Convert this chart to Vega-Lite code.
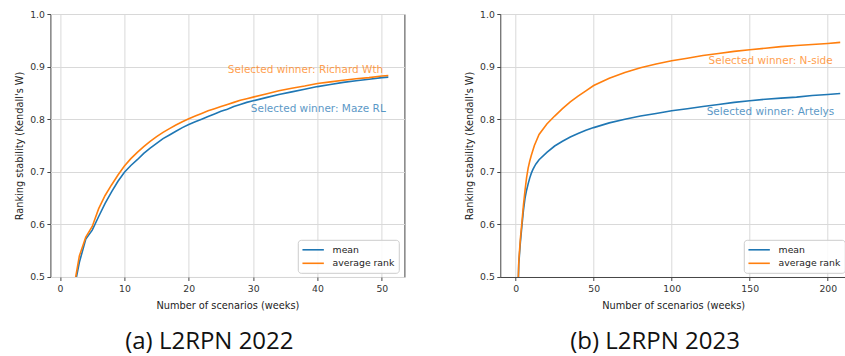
{
  "$schema": "https://vega.github.io/schema/vega-lite/v6.json",
  "padding": {"left": 13.4, "top": 9, "right": 0, "bottom": 2},
  "spacing": 57.9,
  "config": {
    "font": "DejaVu Sans",
    "axis": {
      "grid": true, "gridColor": "#d9d9d9", "gridWidth": 1,
      "domain": false, "domainColor": "#444", "domainWidth": 1,
      "tickSize": 3.5, "tickColor": "#444", "tickWidth": 1,
      "labelFontSize": 9.3, "labelColor": "#333", "labelFont": "DejaVu Sans",
      "titleFontSize": 9.8, "titleFontWeight": "normal", "titleColor": "#222", "titleFont": "DejaVu Sans",
      "labelFlush": false
    },
    "axisY": {"labelPadding": 2.5, "titlePadding": 5.3},
    "axisX": {"labelPadding": 4, "titlePadding": 6.5},
    "legend": {
      "labelFontSize": 9.3, "labelFont": "DejaVu Sans", "labelColor": "#222",
      "symbolType": "M-1,0H3", "symbolStrokeWidth": 1.6, "symbolSize": 114.5,
      "strokeColor": "#cccccc", "fillColor": "rgba(255,255,255,0.85)",
      "padding": 3.5, "cornerRadius": 3, "rowPadding": 1.5, "labelOffset": 18.3
    },
    "title": {"font": "Open Sans", "fontSize": 24, "fontWeight": "normal", "color": "#111"}
  },
  "datasets": {
    "l22": [
      {"x": 2, "y": 0.466, "series": "mean"}, {"x": 3, "y": 0.528, "series": "mean"}, {"x": 4, "y": 0.572, "series": "mean"},
      {"x": 5, "y": 0.589, "series": "mean"}, {"x": 6, "y": 0.615, "series": "mean"}, {"x": 7, "y": 0.640, "series": "mean"},
      {"x": 8, "y": 0.662, "series": "mean"}, {"x": 9, "y": 0.682, "series": "mean"}, {"x": 10, "y": 0.699, "series": "mean"},
      {"x": 11, "y": 0.712, "series": "mean"}, {"x": 12, "y": 0.723, "series": "mean"}, {"x": 13, "y": 0.735, "series": "mean"},
      {"x": 14, "y": 0.745, "series": "mean"}, {"x": 15, "y": 0.754, "series": "mean"}, {"x": 16, "y": 0.763, "series": "mean"},
      {"x": 17, "y": 0.770, "series": "mean"}, {"x": 18, "y": 0.777, "series": "mean"}, {"x": 19, "y": 0.784, "series": "mean"},
      {"x": 20, "y": 0.790, "series": "mean"}, {"x": 21, "y": 0.795, "series": "mean"}, {"x": 22, "y": 0.800, "series": "mean"},
      {"x": 23, "y": 0.805, "series": "mean"}, {"x": 24, "y": 0.810, "series": "mean"}, {"x": 25, "y": 0.815, "series": "mean"},
      {"x": 26, "y": 0.819, "series": "mean"}, {"x": 27, "y": 0.824, "series": "mean"}, {"x": 28, "y": 0.828, "series": "mean"},
      {"x": 29, "y": 0.832, "series": "mean"}, {"x": 30, "y": 0.835, "series": "mean"}, {"x": 32, "y": 0.841, "series": "mean"},
      {"x": 34, "y": 0.847, "series": "mean"}, {"x": 36, "y": 0.852, "series": "mean"}, {"x": 38, "y": 0.857, "series": "mean"},
      {"x": 40, "y": 0.862, "series": "mean"}, {"x": 42, "y": 0.866, "series": "mean"}, {"x": 44, "y": 0.870, "series": "mean"},
      {"x": 46, "y": 0.873, "series": "mean"}, {"x": 48, "y": 0.876, "series": "mean"}, {"x": 50, "y": 0.879, "series": "mean"},
      {"x": 51, "y": 0.880, "series": "mean"},
      {"x": 2, "y": 0.470, "series": "average rank"}, {"x": 3, "y": 0.540, "series": "average rank"}, {"x": 4, "y": 0.576, "series": "average rank"},
      {"x": 5, "y": 0.596, "series": "average rank"}, {"x": 6, "y": 0.630, "series": "average rank"}, {"x": 7, "y": 0.655, "series": "average rank"},
      {"x": 8, "y": 0.675, "series": "average rank"}, {"x": 9, "y": 0.694, "series": "average rank"}, {"x": 10, "y": 0.711, "series": "average rank"},
      {"x": 11, "y": 0.725, "series": "average rank"}, {"x": 12, "y": 0.737, "series": "average rank"}, {"x": 13, "y": 0.748, "series": "average rank"},
      {"x": 14, "y": 0.758, "series": "average rank"}, {"x": 15, "y": 0.767, "series": "average rank"}, {"x": 16, "y": 0.775, "series": "average rank"},
      {"x": 17, "y": 0.782, "series": "average rank"}, {"x": 18, "y": 0.789, "series": "average rank"}, {"x": 19, "y": 0.795, "series": "average rank"},
      {"x": 20, "y": 0.801, "series": "average rank"}, {"x": 21, "y": 0.806, "series": "average rank"}, {"x": 22, "y": 0.811, "series": "average rank"},
      {"x": 23, "y": 0.816, "series": "average rank"}, {"x": 24, "y": 0.820, "series": "average rank"}, {"x": 25, "y": 0.824, "series": "average rank"},
      {"x": 26, "y": 0.828, "series": "average rank"}, {"x": 27, "y": 0.832, "series": "average rank"}, {"x": 28, "y": 0.836, "series": "average rank"},
      {"x": 29, "y": 0.839, "series": "average rank"}, {"x": 30, "y": 0.842, "series": "average rank"}, {"x": 32, "y": 0.848, "series": "average rank"},
      {"x": 34, "y": 0.854, "series": "average rank"}, {"x": 36, "y": 0.859, "series": "average rank"}, {"x": 38, "y": 0.863, "series": "average rank"},
      {"x": 40, "y": 0.868, "series": "average rank"}, {"x": 42, "y": 0.871, "series": "average rank"}, {"x": 44, "y": 0.874, "series": "average rank"},
      {"x": 46, "y": 0.877, "series": "average rank"}, {"x": 48, "y": 0.879, "series": "average rank"}, {"x": 50, "y": 0.882, "series": "average rank"},
      {"x": 51, "y": 0.883, "series": "average rank"}
    ],
    "l23": [
      {"x": 1, "y": 0.42, "series": "mean"}, {"x": 2, "y": 0.525, "series": "mean"}, {"x": 3, "y": 0.565, "series": "mean"},
      {"x": 4, "y": 0.597, "series": "mean"}, {"x": 5, "y": 0.627, "series": "mean"}, {"x": 6, "y": 0.650, "series": "mean"},
      {"x": 7, "y": 0.665, "series": "mean"}, {"x": 8, "y": 0.677, "series": "mean"}, {"x": 9, "y": 0.688, "series": "mean"},
      {"x": 10, "y": 0.697, "series": "mean"}, {"x": 11, "y": 0.704, "series": "mean"}, {"x": 12, "y": 0.710, "series": "mean"},
      {"x": 13, "y": 0.715, "series": "mean"}, {"x": 15, "y": 0.723, "series": "mean"}, {"x": 20, "y": 0.737, "series": "mean"},
      {"x": 25, "y": 0.749, "series": "mean"}, {"x": 30, "y": 0.758, "series": "mean"}, {"x": 35, "y": 0.766, "series": "mean"},
      {"x": 40, "y": 0.773, "series": "mean"}, {"x": 45, "y": 0.779, "series": "mean"}, {"x": 50, "y": 0.784, "series": "mean"},
      {"x": 60, "y": 0.793, "series": "mean"}, {"x": 70, "y": 0.800, "series": "mean"}, {"x": 80, "y": 0.806, "series": "mean"},
      {"x": 90, "y": 0.811, "series": "mean"}, {"x": 100, "y": 0.816, "series": "mean"}, {"x": 110, "y": 0.820, "series": "mean"},
      {"x": 120, "y": 0.824, "series": "mean"}, {"x": 130, "y": 0.828, "series": "mean"}, {"x": 140, "y": 0.832, "series": "mean"},
      {"x": 150, "y": 0.835, "series": "mean"}, {"x": 160, "y": 0.838, "series": "mean"}, {"x": 170, "y": 0.840, "series": "mean"},
      {"x": 180, "y": 0.842, "series": "mean"}, {"x": 190, "y": 0.845, "series": "mean"}, {"x": 200, "y": 0.847, "series": "mean"},
      {"x": 208, "y": 0.849, "series": "mean"},
      {"x": 1, "y": 0.42, "series": "average rank"}, {"x": 2, "y": 0.530, "series": "average rank"}, {"x": 3, "y": 0.572, "series": "average rank"},
      {"x": 4, "y": 0.604, "series": "average rank"}, {"x": 5, "y": 0.637, "series": "average rank"}, {"x": 6, "y": 0.665, "series": "average rank"},
      {"x": 7, "y": 0.689, "series": "average rank"}, {"x": 8, "y": 0.707, "series": "average rank"}, {"x": 9, "y": 0.720, "series": "average rank"},
      {"x": 10, "y": 0.731, "series": "average rank"}, {"x": 12, "y": 0.750, "series": "average rank"}, {"x": 15, "y": 0.771, "series": "average rank"},
      {"x": 20, "y": 0.791, "series": "average rank"}, {"x": 25, "y": 0.806, "series": "average rank"}, {"x": 30, "y": 0.820, "series": "average rank"},
      {"x": 35, "y": 0.833, "series": "average rank"}, {"x": 40, "y": 0.844, "series": "average rank"}, {"x": 45, "y": 0.854, "series": "average rank"},
      {"x": 50, "y": 0.864, "series": "average rank"}, {"x": 60, "y": 0.878, "series": "average rank"}, {"x": 70, "y": 0.889, "series": "average rank"},
      {"x": 80, "y": 0.898, "series": "average rank"}, {"x": 90, "y": 0.905, "series": "average rank"}, {"x": 100, "y": 0.911, "series": "average rank"},
      {"x": 110, "y": 0.916, "series": "average rank"}, {"x": 120, "y": 0.921, "series": "average rank"}, {"x": 130, "y": 0.925, "series": "average rank"},
      {"x": 140, "y": 0.929, "series": "average rank"}, {"x": 150, "y": 0.932, "series": "average rank"}, {"x": 160, "y": 0.935, "series": "average rank"},
      {"x": 170, "y": 0.938, "series": "average rank"}, {"x": 180, "y": 0.940, "series": "average rank"}, {"x": 190, "y": 0.942, "series": "average rank"},
      {"x": 200, "y": 0.944, "series": "average rank"}, {"x": 208, "y": 0.946, "series": "average rank"}
    ],
    "a22": [
      {"x": 50.2, "y": 0.894, "series": "average rank", "label": "Selected winner: Richard Wth"},
      {"x": 50.6, "y": 0.819, "series": "mean", "label": "Selected winner: Maze RL"}
    ],
    "a23": [
      {"x": 203.2, "y": 0.911, "series": "average rank", "label": "Selected winner: N-side"},
      {"x": 204.2, "y": 0.813, "series": "mean", "label": "Selected winner: Artelys"}
    ]
  },
  "resolve": {"scale": {"color": "independent"}, "legend": {"color": "independent"}},
  "hconcat": [
    {
      "width": 354, "height": 263,
      "view": {"stroke": "#444", "strokeWidth": 1},
      "title": {"text": "(a) L2RPN 2022", "orient": "bottom", "anchor": "middle", "frame": "bounds", "offset": 20},
      "layer": [
        {
          "data": {"name": "l22"},
          "mark": {"type": "line", "clip": true, "strokeWidth": 1.6},
          "encoding": {
            "x": {"field": "x", "type": "quantitative", "scale": {"domain": [-1.5, 53.5], "nice": false, "zero": false},
                  "axis": {"values": [0, 10, 20, 30, 40, 50], "title": "Number of scenarios (weeks)"}},
            "y": {"field": "y", "type": "quantitative", "scale": {"domain": [0.5, 1.0], "nice": false, "zero": false},
                  "axis": {"values": [0.5, 0.6, 0.7, 0.8, 0.9, 1.0], "format": ".1f", "title": "Ranking stability (Kendall's W)"}},
            "color": {"field": "series", "type": "nominal",
                      "scale": {"domain": ["mean", "average rank"], "range": ["#1f77b4", "#ff7f0e"]},
                      "legend": {"orient": "none", "legendX": 247.4, "legendY": 225.8, "title": null}}
          }
        },
        {
          "data": {"name": "a22"},
          "mark": {"type": "text", "align": "right", "baseline": "middle", "fontSize": 10.5, "opacity": 0.75},
          "encoding": {
            "x": {"field": "x", "type": "quantitative"},
            "y": {"field": "y", "type": "quantitative"},
            "text": {"field": "label"},
            "color": {"field": "series", "type": "nominal", "legend": null}
          }
        }
      ]
    },
    {
      "width": 345.7, "height": 263,
      "view": {"stroke": null},
      "title": {"text": "(b) L2RPN 2023", "orient": "bottom", "anchor": "middle", "frame": "bounds", "offset": 20},
      "layer": [
        {
          "data": {"name": "l23"},
          "mark": {"type": "line", "clip": true, "strokeWidth": 1.6},
          "encoding": {
            "x": {"field": "x", "type": "quantitative", "scale": {"domain": [-9.85, 211.7], "nice": false, "zero": false},
                  "axis": {"values": [0, 50, 100, 150, 200], "title": "Number of scenarios (weeks)", "domain": true}},
            "y": {"field": "y", "type": "quantitative", "scale": {"domain": [0.5, 1.0], "nice": false, "zero": false},
                  "axis": {"values": [0.5, 0.6, 0.7, 0.8, 0.9, 1.0], "format": ".1f", "title": "Ranking stability (Kendall's W)", "domain": true}},
            "color": {"field": "series", "type": "nominal",
                      "scale": {"domain": ["mean", "average rank"], "range": ["#1f77b4", "#ff7f0e"]},
                      "legend": {"orient": "none", "legendX": 243.5, "legendY": 225.8, "title": null}}
          }
        },
        {
          "data": {"name": "a23"},
          "mark": {"type": "text", "align": "right", "baseline": "middle", "fontSize": 10.5, "opacity": 0.75},
          "encoding": {
            "x": {"field": "x", "type": "quantitative"},
            "y": {"field": "y", "type": "quantitative"},
            "text": {"field": "label"},
            "color": {"field": "series", "type": "nominal", "legend": null}
          }
        },
        {
          "mark": {"type": "rule", "color": "#444", "strokeWidth": 1},
          "encoding": {"y": {"datum": 1.0}}
        }
      ]
    }
  ]
}
